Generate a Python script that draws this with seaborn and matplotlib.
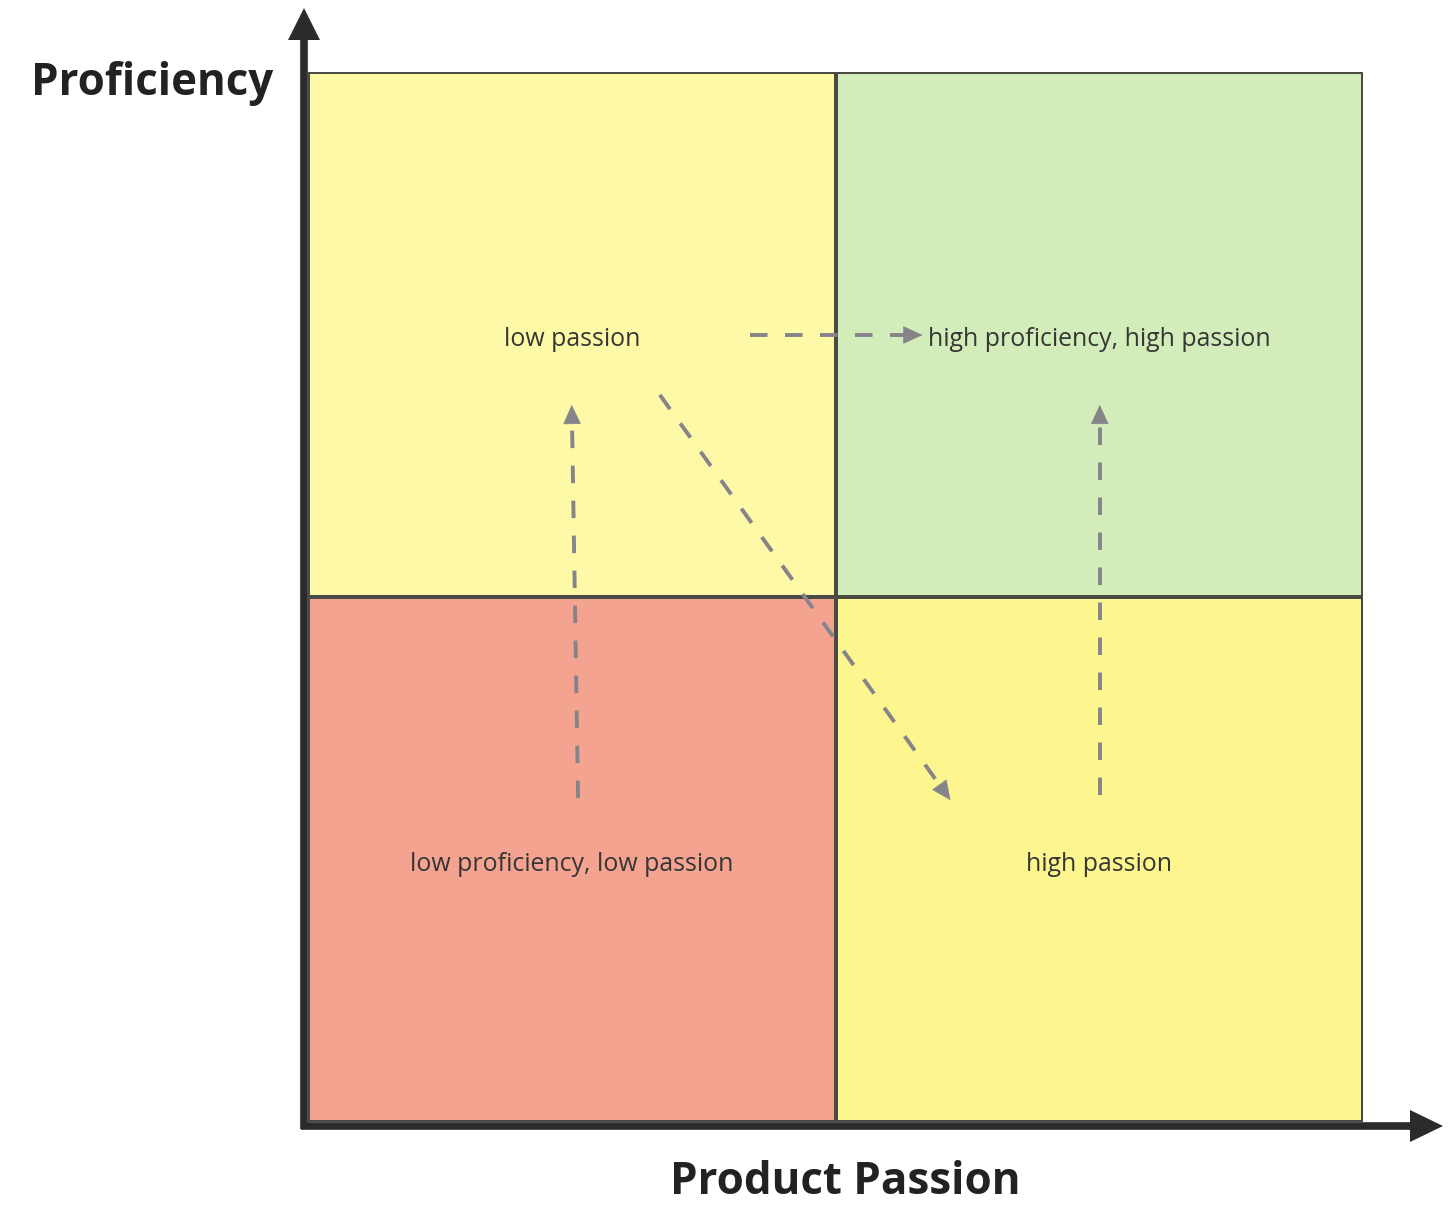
import matplotlib
matplotlib.use("Agg")
import matplotlib.pyplot as plt
from matplotlib.colors import ListedColormap
from matplotlib.lines import Line2D
from matplotlib.patches import Polygon
import numpy as np
import seaborn as sns

# ---- data ----
passion_levels = ["low passion", "high passion"]              # x categories
proficiency_levels = ["high proficiency", "low proficiency"]  # y categories (top to bottom)
quadrant_codes = [[0, 1], [2, 3]]
quadrant_colors = ["#FEF9A6", "#D3EDBA", "#F4A391", "#FDF68E"]
quadrant_labels = [["low passion", "high proficiency, high passion"],
                   ["low proficiency, low passion", "high passion"]]
# transitions between quadrants (start, end) in cell units
transitions = [
    ((0.512, 1.383), (0.500, 0.634)),
    ((1.501, 1.377), (1.501, 0.634)),
    ((0.838, 0.501), (1.165, 0.501)),
    ((0.667, 0.615), (1.218, 1.387)),
]
x_title = "Product Passion"
y_title = "Proficiency"

sns.set_theme(style="white")
plt.rcParams["font.family"] = ["Open Sans", "DejaVu Sans"]

W, H = 1456, 1225
fig = plt.figure(figsize=(W / 100, H / 100), dpi=100)
left, right, top, bottom = 308, 1363, 72, 1122
ax = fig.add_axes([left / W, 1 - bottom / H, (right - left) / W, (bottom - top) / H])

sns.heatmap(np.array(quadrant_codes), cmap=ListedColormap(quadrant_colors),
            vmin=-0.5, vmax=3.5, cbar=False, linewidths=1.6, linecolor="#4a4a45",
            xticklabels=False, yticklabels=False, ax=ax)
ax.set_xlim(0, 2)
ax.set_ylim(2, 0)
for s in ax.spines.values():
    s.set_visible(False)

for i in range(2):
    for j in range(2):
        ax.text(j + 0.5, i + 0.51, quadrant_labels[i][j], ha="center", va="center",
                fontsize=17.9, color="#363636")

arrow_col = "#84848a"
for (x0, y0), (x1, y1) in transitions:
    # dashed shaft ending short of the tip, then a solid filled head
    p0 = ax.transData.transform((x0, y0))
    p1 = ax.transData.transform((x1, y1))
    d = p1 - p0
    L = np.hypot(*d)
    u = d / L
    hl = 13.0
    base = p1 - u * hl
    bx, by = ax.transData.inverted().transform(base)
    ax.plot([x0, bx], [y0, by], color=arrow_col, lw=2.8,
            linestyle=(0, (4.5, 4.5)), solid_capstyle="butt", dash_capstyle="butt")
    ax.annotate("", xy=(x1, y1), xytext=(bx, by),
                arrowprops=dict(arrowstyle="-|>,head_length=1.3,head_width=0.6",
                                color=arrow_col, lw=0.5, mutation_scale=10,
                                shrinkA=0, shrinkB=0))

# main axis arrows (figure pixel coordinates)
def px(x, y):
    return x / W, 1 - y / H

axis_col = "#2b2b2b"
ox, oy = 304, 1126
fig.add_artist(Line2D(*zip(px(ox, oy + 3), px(ox, 38)), transform=fig.transFigure,
                      color=axis_col, lw=5.5, solid_capstyle="butt"))
fig.add_artist(Polygon([px(ox - 16, 40), px(ox, 8), px(ox + 16, 40)], closed=True,
                       transform=fig.transFigure, color=axis_col, lw=0))
fig.add_artist(Line2D(*zip(px(ox - 3, oy), px(1412, oy)), transform=fig.transFigure,
                      color=axis_col, lw=5.5, solid_capstyle="butt"))
fig.add_artist(Polygon([px(1410, oy - 16), px(1443, oy), px(1410, oy + 16)], closed=True,
                       transform=fig.transFigure, color=axis_col, lw=0))

fig.text(152 / W, 1 - 84 / H, y_title, ha="center", va="center",
         fontsize=31.6, fontweight="bold", color="#222222")
fig.text(845 / W, 1 - 1182 / H, x_title, ha="center", va="center",
         fontsize=31.6, fontweight="bold", color="#222222")

fig.savefig("out.png", dpi=100, facecolor="white")
